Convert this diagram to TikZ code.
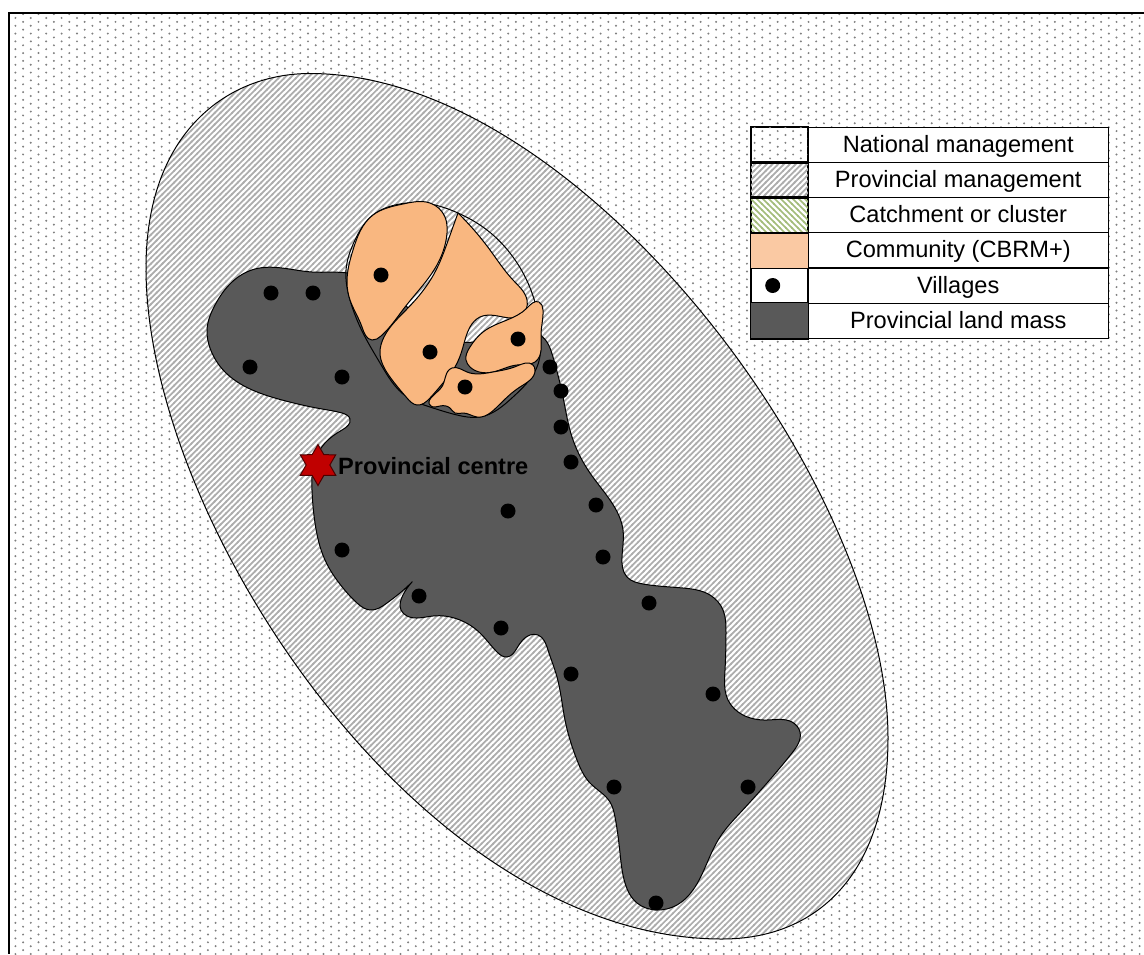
\documentclass[tikz,border=0pt]{standalone}
\usepackage{fontspec}
\setmainfont{Liberation Sans}
\usetikzlibrary{patterns,shapes.geometric,hobby}
\makeatletter
\pgfdeclarepatternformonly{natdots}{\pgfqpoint{-1.5pt}{-1.5pt}}{\pgfqpoint{13.9pt}{6.3pt}}{\pgfqpoint{15.4pt}{7.8pt}}{
  \pgfpathcircle{\pgfqpoint{0pt}{0pt}}{1.1pt}
  \pgfpathcircle{\pgfqpoint{7.7pt}{3.9pt}}{1.1pt}
  \pgfusepath{fill}}
\pgfdeclarepatternformonly{provhatch}{\pgfqpoint{-1pt}{-1pt}}{\pgfqpoint{6.8pt}{6.8pt}}{\pgfqpoint{5.8pt}{5.8pt}}{
  \pgfsetlinewidth{1.7pt}
  \pgfpathmoveto{\pgfqpoint{-1pt}{-1pt}}\pgfpathlineto{\pgfqpoint{6.8pt}{6.8pt}}
  \pgfusepath{stroke}}
\pgfdeclarepatternformonly{catchhatch}{\pgfqpoint{-1pt}{-1pt}}{\pgfqpoint{7pt}{7pt}}{\pgfqpoint{6pt}{6pt}}{
  \pgfsetlinewidth{1.7pt}
  \pgfpathmoveto{\pgfqpoint{-1pt}{7pt}}\pgfpathlineto{\pgfqpoint{7pt}{-1pt}}
  \pgfusepath{stroke}}
\makeatother
\definecolor{dotgrey}{HTML}{808080}
\definecolor{hatchgrey}{HTML}{ADADAD}
\definecolor{catchgreen}{HTML}{A3BC7A}
\definecolor{landgrey}{HTML}{595959}
\definecolor{commorange}{HTML}{F9B780}
\definecolor{legorange}{HTML}{FAC9A3}
\definecolor{starred}{HTML}{C00000}
\def\provoutline{(146,268) .. controls (146,133) and (227,73.5) .. (310,73.5) .. controls (579,73.5) and (888,483) .. (888,738) .. controls (888,868) and (822,939) .. (722,939) .. controls (422,939) and (146,523) .. (146,268) -- cycle}
\tikzset{
  village/.style={circle,fill=black,minimum size=15pt,inner sep=0pt},
  community/.style={fill=commorange,draw=black,line width=1pt},
  legtext/.style={fill=white,draw=black,line width=1.2pt,minimum width=300.5pt,minimum height=35.17pt,inner sep=0pt,text height=19pt,text depth=4pt,font=\fontsize{23.6pt}{26pt}\selectfont},
  legswatch/.style={draw=black,line width=1.2pt,minimum width=57pt,minimum height=35.17pt,inner sep=0pt},
}
\begin{document}
\begin{tikzpicture}[x=1pt,y=-1pt]
\useasboundingbox (0,0) rectangle (1144,954);
% national area
\path[fill=white] (0,0) rectangle (1144,954);
\path[pattern=natdots,pattern color=dotgrey] (9,13) rectangle (1144,954);
\draw[line width=1.3pt] (1144,13) -- (9,13) -- (9,954);
% provincial area
\path[fill=white] \provoutline;
\path[pattern=provhatch,pattern color=hatchgrey] \provoutline;
\draw[line width=1pt] \provoutline;
% land
\draw[fill=landgrey,line width=1pt] plot[hobby] coordinates {
(412,582)(403,595)(401,610)(407,616)(433,616)(460,620)(480,633)(497,652)(507,657)(517,648)(530,635)(538,635)(548,650)(557,677)(565,720)(577,760)(590,783)(610,802)(615,817)(620,853)(625,883)(637,903)(657,910)(677,905)(693,890)(707,863)(720,837)(740,813)(767,783)(792,753)(800,732)(792,722)(767,720)(743,715)(728,700)(725,670)(726,633)(723,610)(710,595)(683,588)(643,584)(627,577)(622,557)(623,530)(610,500)(590,473)(572,437)(563,397)(553,357)(540,335)(510,335)(475,342)(450,340)(400,300)(348,273)(312,272)(282,268)(255,269)(232,282)(215,305)(207,330)(210,348)(225,372)(248,388)(282,400)(322,409)(342,413)(350,419)(342,430)(325,443)(313,468)(312,490)(315,523)(325,560)(343,588)(357,603)(370,610)(387,603)(400,593)(412,582)} -- cycle;
% catchment outline
\draw[line width=1pt] plot[closed hobby] coordinates {
(423,203)(458,213)(487,230)(513,257)(528,283)(537,310)(541,343)(537,367)(513,397)(480,417)(457,415)(430,407)(407,397)(380,363)(363,333)(350,300)(346,270)(355,240)(373,215)(395,205)};
% communities
\draw[community] plot[closed hobby] coordinates {
(347,283)(353,250)(373,215)(403,204)(430,203)(445,217)(447,233)(434,270)(405,307)(381,336)(372,340)(362,327)(350,300)};
\draw[community] plot[hobby] coordinates {
(458,213)(490,250)(513,280)(527,300)(522,315)(503,317)(480,317)(470,327)(463,347)(455,367)(443,383)(430,398)(417,405)(407,398)(390,377)(380,353)(384,337)(408,308)(434,274)(449,238)(458,213)} -- cycle;
\draw[community] plot[closed hobby] coordinates {
(539,302)(543,310)(541,335)(535,362)(517,365)(493,372)(470,367)(466,360)(470,347)(483,332)(507,320)(527,308)};
\draw[community] plot[closed hobby] coordinates {
(533,365)(535,370)(520,387)(497,407)(477,417)(463,413)(455,413)(450,408)(440,406)(431,406)(441,388)(452,368)(467,372)(493,372)(517,366)};
% villages
\foreach \n/\x/\y in {a/271/293,b/313/293,c/250/367,d/342/377,e/381/275,f/430/352,g/518/339,h/465/387,i/550/367,j/561/391,k/561/427,l/571/462,m/596/505,n/508/511,o/603/557,p/342/550,q/419/596,r/501/628,s/649/603,t/571/674,u/713/694,v/614/787,w/748/787,x/656/903}
  \node[village] (v\n) at (\x,\y) {};
% centre
\node[star,star points=6,star point ratio=1.73,minimum size=41pt,inner sep=0pt,fill=starred,draw=black!60!starred,line width=1pt] (centre) at (318,465) {};
\node[anchor=west,inner sep=0pt,font=\bfseries\fontsize{23.6pt}{26pt}\selectfont] (centrelabel) at (338,466) {Provincial centre};
% legend
\foreach \i/\t in {1/National management,2/Provincial management,3/Catchment or cluster,4/Community (CBRM+),5/Villages,6/Provincial land mass}{
  \node[legtext] (t\i) at (958.25,{127.3+35.17*(\i-0.5)}) {\t};
  \node[legswatch,fill=white] (s\i) at (779.5,{127.3+35.17*(\i-0.5)}) {};
}
\path[pattern=natdots,pattern color=dotgrey] (s1.south west) rectangle (s1.north east);
\path[pattern=provhatch,pattern color=hatchgrey] (s2.south west) rectangle (s2.north east);
\path[pattern=catchhatch,pattern color=catchgreen] (s3.south west) rectangle (s3.north east);
\path[fill=legorange] (s4.south west) rectangle (s4.north east);
\path[fill=landgrey] (s6.south west) rectangle (s6.north east);
\foreach \i in {1,2,3,4,6} \draw[line width=1.2pt] (s\i.south west) rectangle (s\i.north east);
\node[village] (legv) at (772.7,285.5) {};
\end{tikzpicture}
\end{document}
